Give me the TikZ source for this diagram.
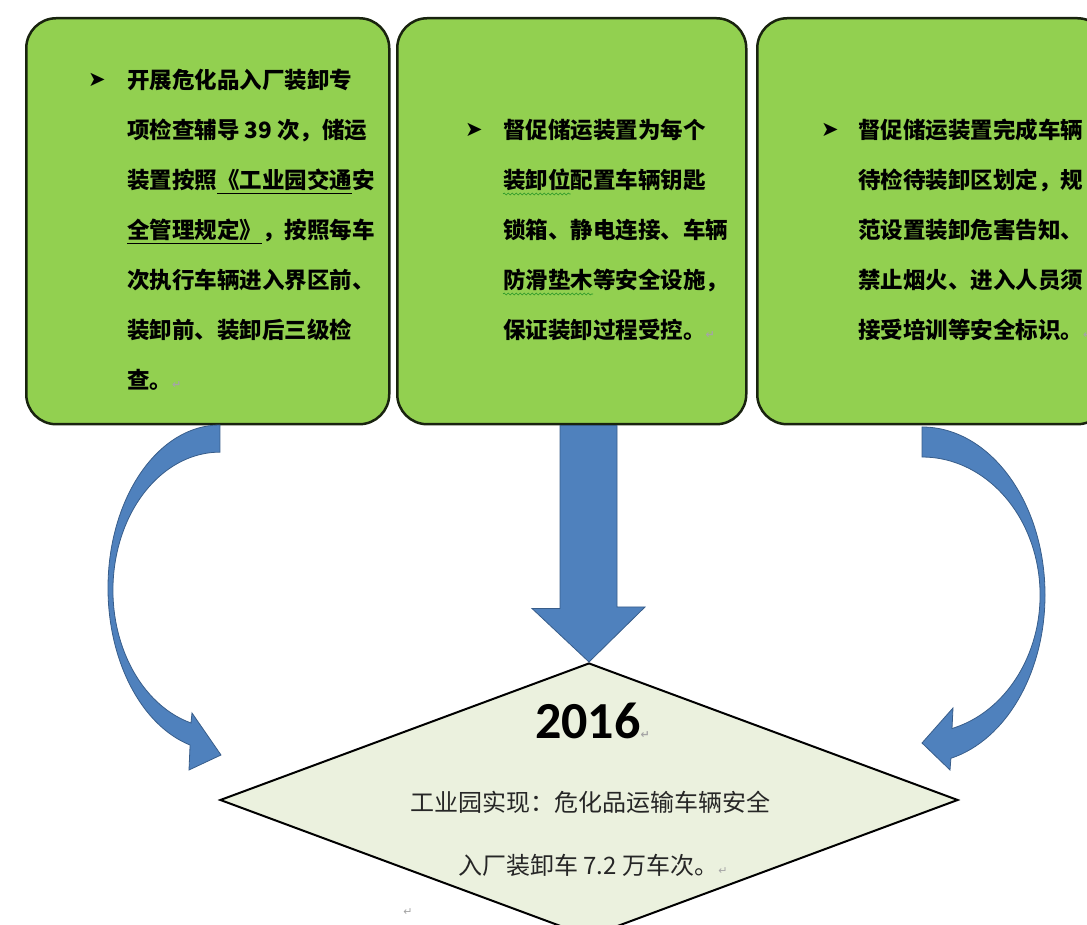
\documentclass[tikz,border=0pt]{standalone}
\usepackage{fontspec}
\usepackage{tikz}
\usetikzlibrary{arrows.meta, positioning, calc, shapes.geometric, decorations.pathmorphing}
\newfontfamily\cjk{Noto Sans CJK SC}
\newfontfamily\yearfont{Carlito}
\newfontfamily\symfont{DejaVu Sans}
\definecolor{leafgreen}{RGB}{146, 208, 80}
\definecolor{paneledge}{RGB}{25, 35, 15}
\definecolor{goalfill}{RGB}{235, 241, 222}
\definecolor{arrowblue}{RGB}{79, 129, 189}
\definecolor{arrowedge}{RGB}{56, 93, 138}
\definecolor{markgray}{RGB}{165, 165, 165}
\definecolor{wavegreen}{RGB}{40, 150, 40}
\newcommand{\pmark}{{\symfont\fontsize{11}{11}\selectfont\textcolor{markgray}{↵}}}

\begin{document}
\begin{tikzpicture}[x=1pt, y=1pt,
    panel/.style={draw=paneledge, fill=leafgreen, line width=2.5pt, rounded corners=30pt,
        minimum height=406pt, anchor=north west, inner sep=0pt},
    panelline/.style={anchor=base west, inner sep=0pt, font=\fontsize{22.5}{27}\selectfont\cjk\bfseries},
    bulletmark/.style={inner sep=0pt, font=\symfont\fontsize{21}{21}\selectfont},
    goal/.style={diamond, draw=black, fill=goalfill, line width=2pt, minimum width=738pt,
        minimum height=274pt, inner sep=0pt},
    goaltext/.style={anchor=base west, inner sep=0pt, text=black!85, font=\fontsize{24}{28}\selectfont\cjk},
    blockarrow/.style={fill=arrowblue, draw=arrowedge, line width=0.8pt, line join=miter},
    spellwave/.style={wavegreen, line width=0.6pt, decorate, decoration={snake, amplitude=1pt, segment length=4pt}}]
    \useasboundingbox (0,0) rectangle (1087,925);
    \clip (0,0) rectangle (1087,925);

    % Panels
    \node[panel, minimum width=363pt] (p1) at (25,908) {};
    \node[panel, minimum width=349pt] (p2) at (396,908) {};
    \node[panel, minimum width=350pt] (p3) at (756,908) {};

    % Panel texts
    \node[bulletmark] (m1) at (97,845) {➤};
    \foreach \s [count=\i from 0] in {开展危化品入厂装卸专, 项检查辅导 39 次，储运, 装置按照《工业园交通安,
        全管理规定》，按照每车, 次执行车辆进入界区前、, 装卸前、装卸后三级检, 查。\pmark}
        \node[panelline] (a\i) at (127, 836-50*\i) {\s};
    \draw[line width=0.8pt] ($(a2.base west)+(90,-4)$) -- ++(135,0);
    \draw[line width=0.8pt] ($(a3.base west)+(0,-4)$) -- ++(135,0);

    \node[bulletmark] (m2) at (474,795) {➤};
    \foreach \s [count=\i from 0] in {督促储运装置为每个, 装卸位配置车辆钥匙, 锁箱、静电连接、车辆,
        防滑垫木等安全设施，, 保证装卸过程受控。\pmark}
        \node[panelline] (b\i) at (503, 786-50*\i) {\s};
    \draw[spellwave] ($(b1.base west)+(0,-5)$) -- ++(67.5,0);
    \draw[spellwave] ($(b3.base west)+(0,-5)$) -- ++(90,0);

    \node[bulletmark] (m3) at (830,795) {➤};
    \foreach \s [count=\i from 0] in {督促储运装置完成车辆, 待检待装卸区划定，规, 范设置装卸危害告知、,
        禁止烟火、进入人员须, 接受培训等安全标识。\pmark}
        \node[panelline] (c\i) at (858, 786-50*\i) {\s};

    % Goal
    \node[goal] (goal) at (589,125) {};
    \node[anchor=base west, inner sep=0pt, font=\yearfont\bfseries\fontsize{52}{56}\selectfont] (yr) at (535,186) {2016\pmark};
    \node[goaltext] (g1) at (410,113) {工业园实现：危化品运输车辆安全};
    \node[goaltext] (g2) at (458,50) {入厂装卸车 7.2 万车次。\pmark};
    \node[inner sep=0pt] (pm) at (408,13) {\pmark};

    % Arrows
    \draw[blockarrow] (goal.north) -- ++(56,55) -- ++(-28,0) -- ($(goal.north |- p2.south)+(28,0)$)
        -- ($(goal.north |- p2.south)+(-29,0)$) |- ++(-28,-183) -- cycle;
    \draw[blockarrow] (220,500) arc[start angle=90, end angle=254.5, x radius=112, y radius=163]
        -- (189,155) -- (221,170) -- (192,212) -- (191,202)
        arc[start angle=254.3, end angle=90, x radius=107, y radius=138] -- cycle;
    \draw[blockarrow] (922,498) arc[start angle=90, end angle=-76.4, x radius=123, y radius=168]
        -- (950,155) -- (922,182) -- (953,217) -- (952,196.5)
        arc[start angle=-75.3, end angle=90, x radius=118, y radius=138] -- cycle;
\end{tikzpicture}
\end{document}
